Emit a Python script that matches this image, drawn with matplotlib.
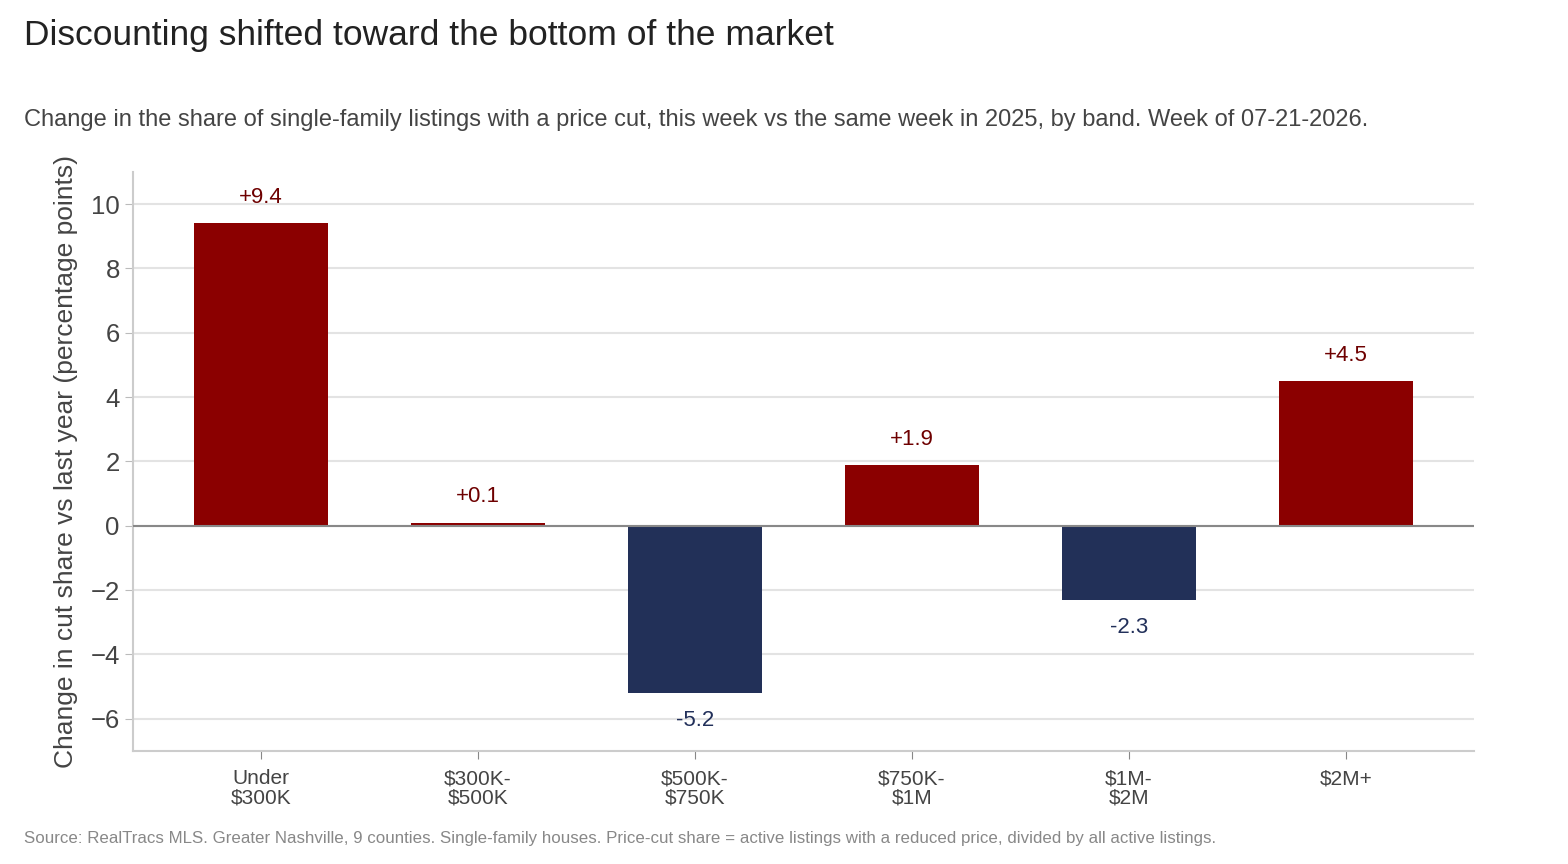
import matplotlib.pyplot as plt
import numpy as np

plt.rcParams['font.family'] = ['Liberation Sans', 'DejaVu Sans']

# Data
bands = ["Under\n$300K", "$300K-\n$500K", "$500K-\n$750K", "$750K-\n$1M", "$1M-\n$2M", "$2M+"]
change = [9.4, 0.1, -5.2, 1.9, -2.3, 4.5]

red = '#8b0000'
navy = '#223058'
red_txt = '#6e0000'
navy_txt = '#22305a'

fig = plt.figure(figsize=(15.68, 8.64), dpi=100)
ax = fig.add_axes([133 / 1568, 1 - 751 / 864, (1474 - 133) / 1568, (751 - 172) / 864])

x = np.arange(len(bands))
colors = [red if v >= 0 else navy for v in change]
ax.bar(x, change, width=0.62, color=colors, zorder=3)

# value labels
for xi, v in zip(x, change):
    if v >= 0:
        ax.annotate("+{:.1f}".format(v), (xi, v), xytext=(0, 18.5), textcoords='offset points',
                    ha='center', va='center', fontsize=16, color=red_txt)
    else:
        ax.annotate("{:.1f}".format(v), (xi, v), xytext=(0, -20), textcoords='offset points',
                    ha='center', va='center', fontsize=16, color=navy_txt)

ax.axhline(0, color='#888888', lw=1.5, zorder=4)
ax.set_ylim(-7, 11)
ax.set_xlim(-0.59, 5.59)
ax.set_yticks([-6, -4, -2, 0, 2, 4, 6, 8, 10])
ax.yaxis.grid(True, color='#e3e3e3', lw=1.5, zorder=0)
ax.set_axisbelow(True)

ax.set_xticks(x)
ax.set_xticklabels(bands, fontsize=15, color='#444444', linespacing=1.0)
ax.tick_params(axis='y', labelsize=18.5, labelcolor='#444444', color='#bbbbbb', length=6)
ax.tick_params(axis='x', color='#888888', length=6, pad=7)

for s in ['top', 'right']:
    ax.spines[s].set_visible(False)
for s in ['left', 'bottom']:
    ax.spines[s].set_color('#cccccc')
    ax.spines[s].set_linewidth(1.5)

ax.set_ylabel("Change in cut share vs last year (percentage points)", fontsize=19, color='#444444', labelpad=9)

fig.text(24 / 1568, 1 - 35 / 864, "Discounting shifted toward the bottom of the market",
         fontsize=25.5, color='#222222', va='center', ha='left')
fig.text(24 / 1568, 1 - 120 / 864,
         "Change in the share of single-family listings with a price cut, this week vs the same week in 2025, by band. Week of 07-21-2026.",
         fontsize=17, color='#444444', va='center', ha='left')
fig.text(24 / 1568, 1 - 839 / 864,
         "Source: RealTracs MLS. Greater Nashville, 9 counties. Single-family houses. Price-cut share = active listings with a reduced price, divided by all active listings.",
         fontsize=12.2, color='#888888', va='center', ha='left')

fig.savefig('out.png', dpi=100)
